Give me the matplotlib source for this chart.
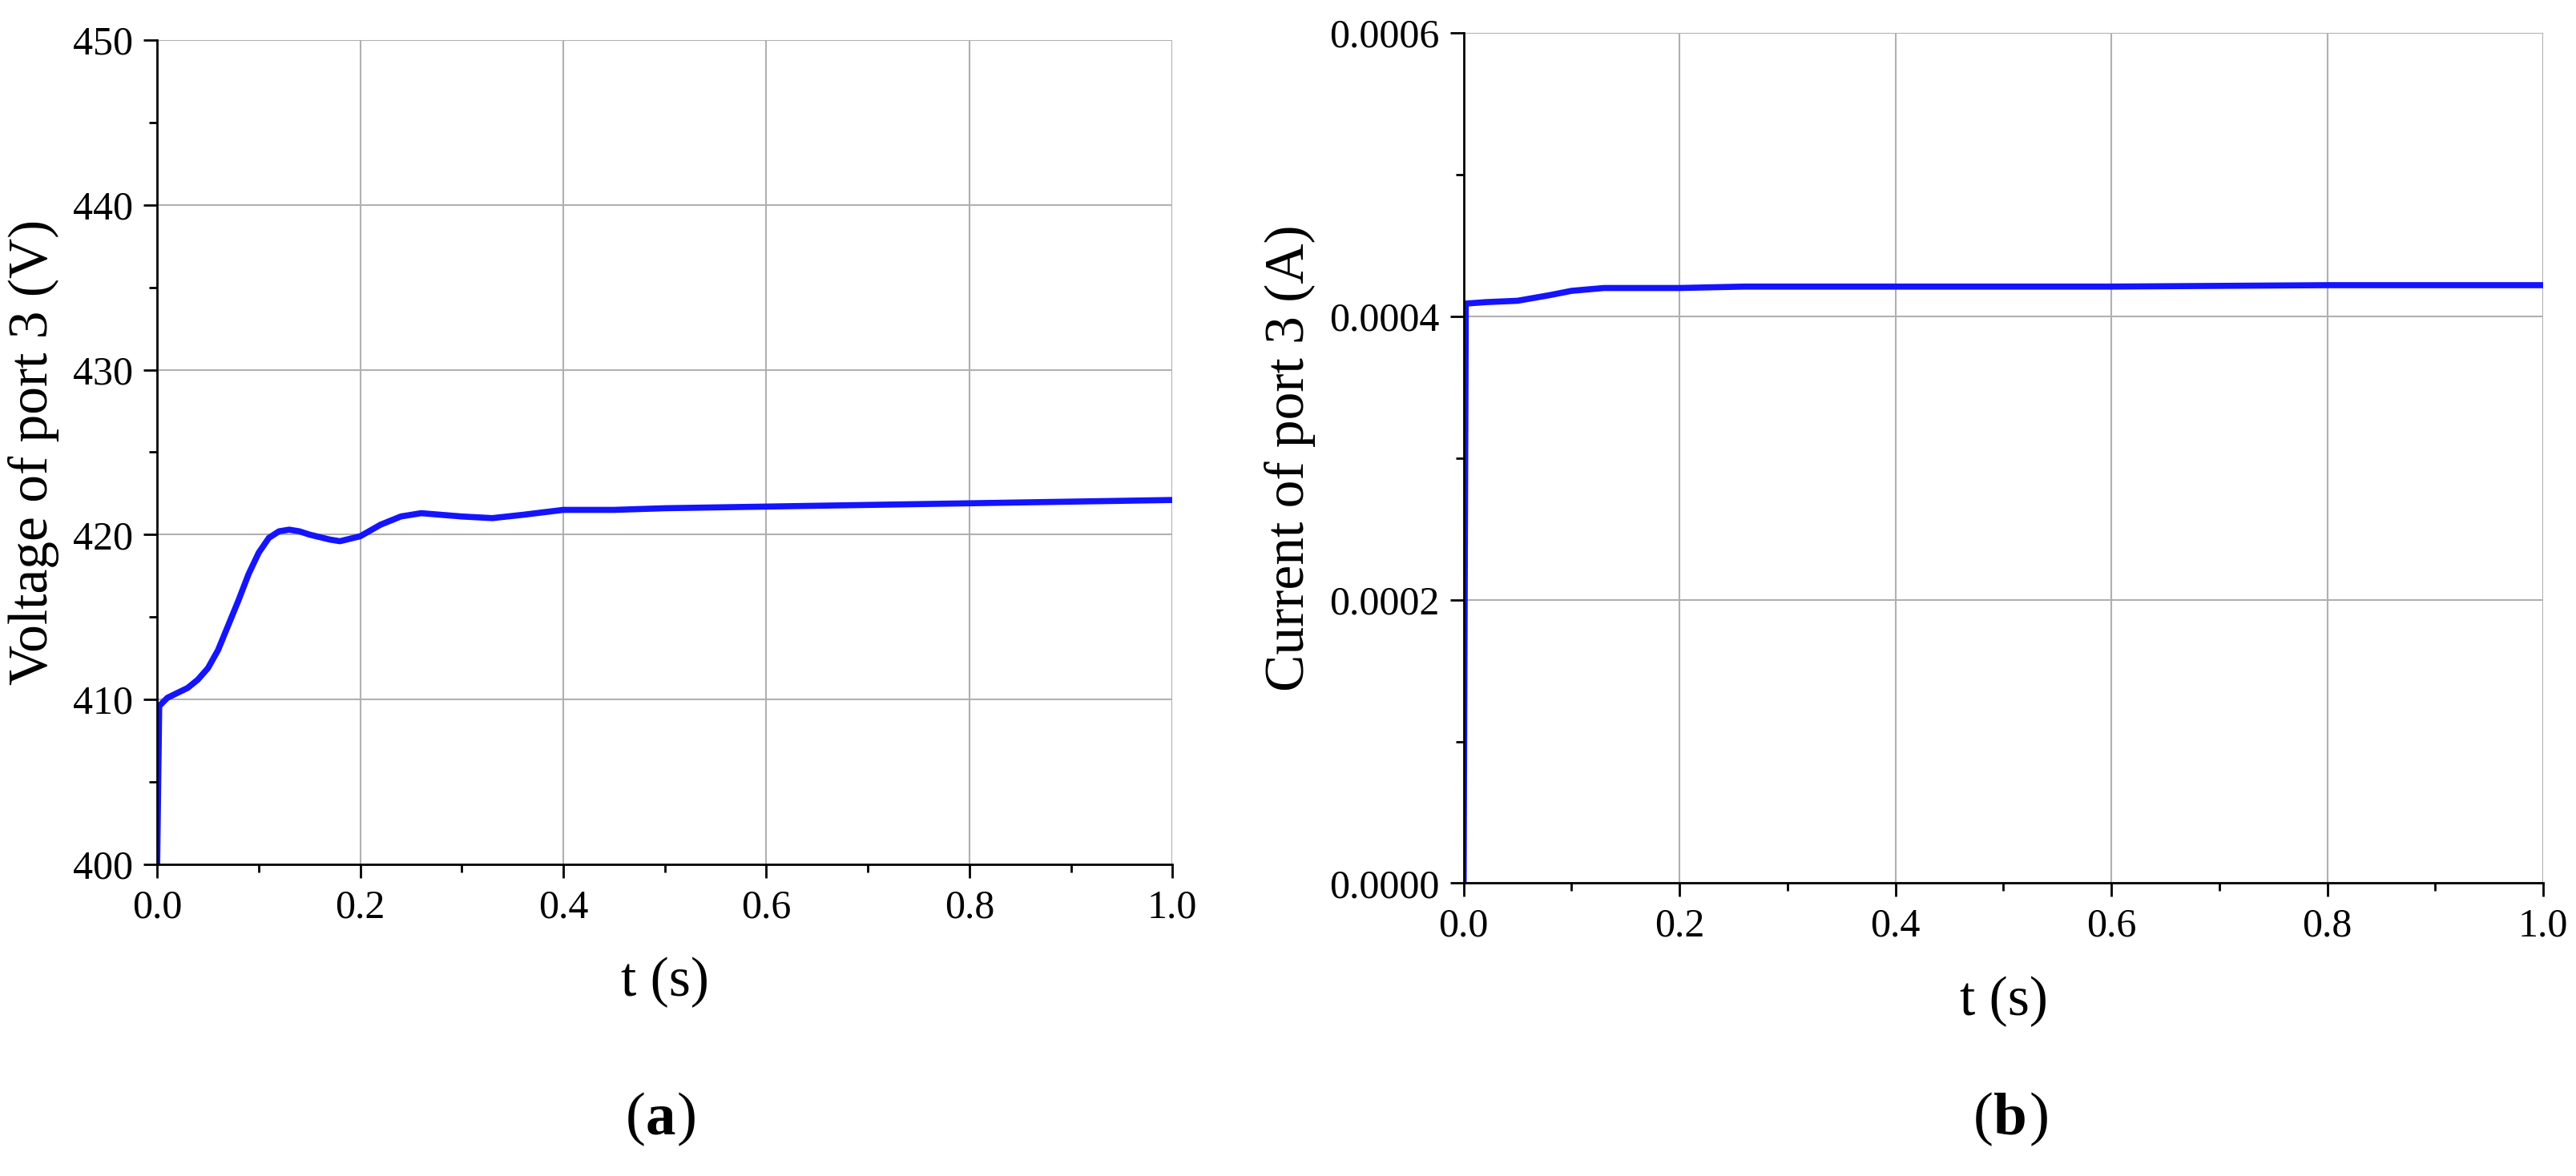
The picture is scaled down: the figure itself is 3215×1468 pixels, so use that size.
import matplotlib

matplotlib.use("Agg")
import matplotlib.pyplot as plt
from matplotlib.ticker import MultipleLocator, FormatStrFormatter

plt.rcParams["font.family"] = ["Liberation Serif", "DejaVu Serif"]

# port 3 voltage (V) vs time (s)
volt_t = [0.0, 0.002, 0.01, 0.02, 0.03, 0.04, 0.05, 0.06, 0.07, 0.08, 0.09, 0.10, 0.11, 0.12,
          0.13, 0.14, 0.15, 0.17, 0.18, 0.20, 0.22, 0.24, 0.26, 0.28, 0.30, 0.33, 0.36,
          0.40, 0.45, 0.50, 0.60, 0.70, 0.80, 0.90, 1.0]
volt_v = [400.0, 409.6, 410.1, 410.4, 410.7, 411.2, 411.9, 413.0, 414.5, 416.0, 417.6, 418.9, 419.8, 420.2,
          420.3, 420.2, 420.0, 419.7, 419.6, 419.9, 420.6, 421.1, 421.3, 421.2, 421.1, 421.0, 421.2,
          421.5, 421.5, 421.6, 421.7, 421.8, 421.9, 422.0, 422.1]

# port 3 current (A) vs time (s)
curr_t = [0.0, 0.002, 0.02, 0.05, 0.08, 0.10, 0.13, 0.16, 0.20, 0.26, 0.40, 0.60, 0.80, 1.0]
curr_a = [0.0, 0.000409, 0.000410, 0.000411, 0.000415, 0.000418, 0.000420, 0.000420, 0.000420,
          0.000421, 0.000421, 0.000421, 0.000422, 0.000422]

fig = plt.figure(figsize=(32.16, 14.68), dpi=100)
ax_a = fig.add_axes([0.061, 0.265, 0.394, 0.701])
ax_b = fig.add_axes([0.568, 0.249, 0.419, 0.723])

for ax in (ax_a, ax_b):
    for side in ("top", "right"):
        ax.spines[side].set_visible(False)
    for side in ("left", "bottom"):
        ax.spines[side].set_linewidth(2)
    ax.grid(True, which="major", color="#b0b0b0", linewidth=1.5)
    ax.set_axisbelow(True)
    ax.set_xlim(0, 1)
    ax.xaxis.set_major_locator(MultipleLocator(0.2))
    ax.xaxis.set_minor_locator(MultipleLocator(0.1))
    ax.xaxis.set_major_formatter(FormatStrFormatter("%.1f"))
    ax.tick_params(which="major", length=12, width=2, labelsize=36, pad=10)
    ax.tick_params(which="minor", length=7, width=2)
    ax.set_xlabel("t (s)", fontsize=50, labelpad=28)

ax_a.plot(volt_t, volt_v, color="#1414ff", linewidth=5.5)
ax_a.set_ylim(400, 450)
ax_a.yaxis.set_major_locator(MultipleLocator(10))
ax_a.yaxis.set_minor_locator(MultipleLocator(5))
ax_a.set_ylabel("Voltage of port 3 (V)", fontsize=50, labelpad=12)

ax_b.plot(curr_t, curr_a, color="#1414ff", linewidth=5.5)
ax_b.set_ylim(0, 0.0006)
ax_b.yaxis.set_major_locator(MultipleLocator(0.0002))
ax_b.yaxis.set_minor_locator(MultipleLocator(0.0001))
ax_b.yaxis.set_major_formatter(FormatStrFormatter("%.4f"))
ax_b.set_ylabel("Current of port 3 (A)", fontsize=50, labelpad=12)

fig.text(0.2505, 0.025, "(", fontsize=54, ha="right", va="bottom")
fig.text(0.2505, 0.025, "a", fontsize=54, fontweight="bold", ha="left", va="bottom")
fig.text(0.2625, 0.025, ")", fontsize=54, ha="left", va="bottom")
fig.text(0.7735, 0.025, "(", fontsize=54, ha="right", va="bottom")
fig.text(0.7735, 0.025, "b", fontsize=54, fontweight="bold", ha="left", va="bottom")
fig.text(0.7875, 0.025, ")", fontsize=54, ha="left", va="bottom")

fig.savefig("out.png", dpi=100)
